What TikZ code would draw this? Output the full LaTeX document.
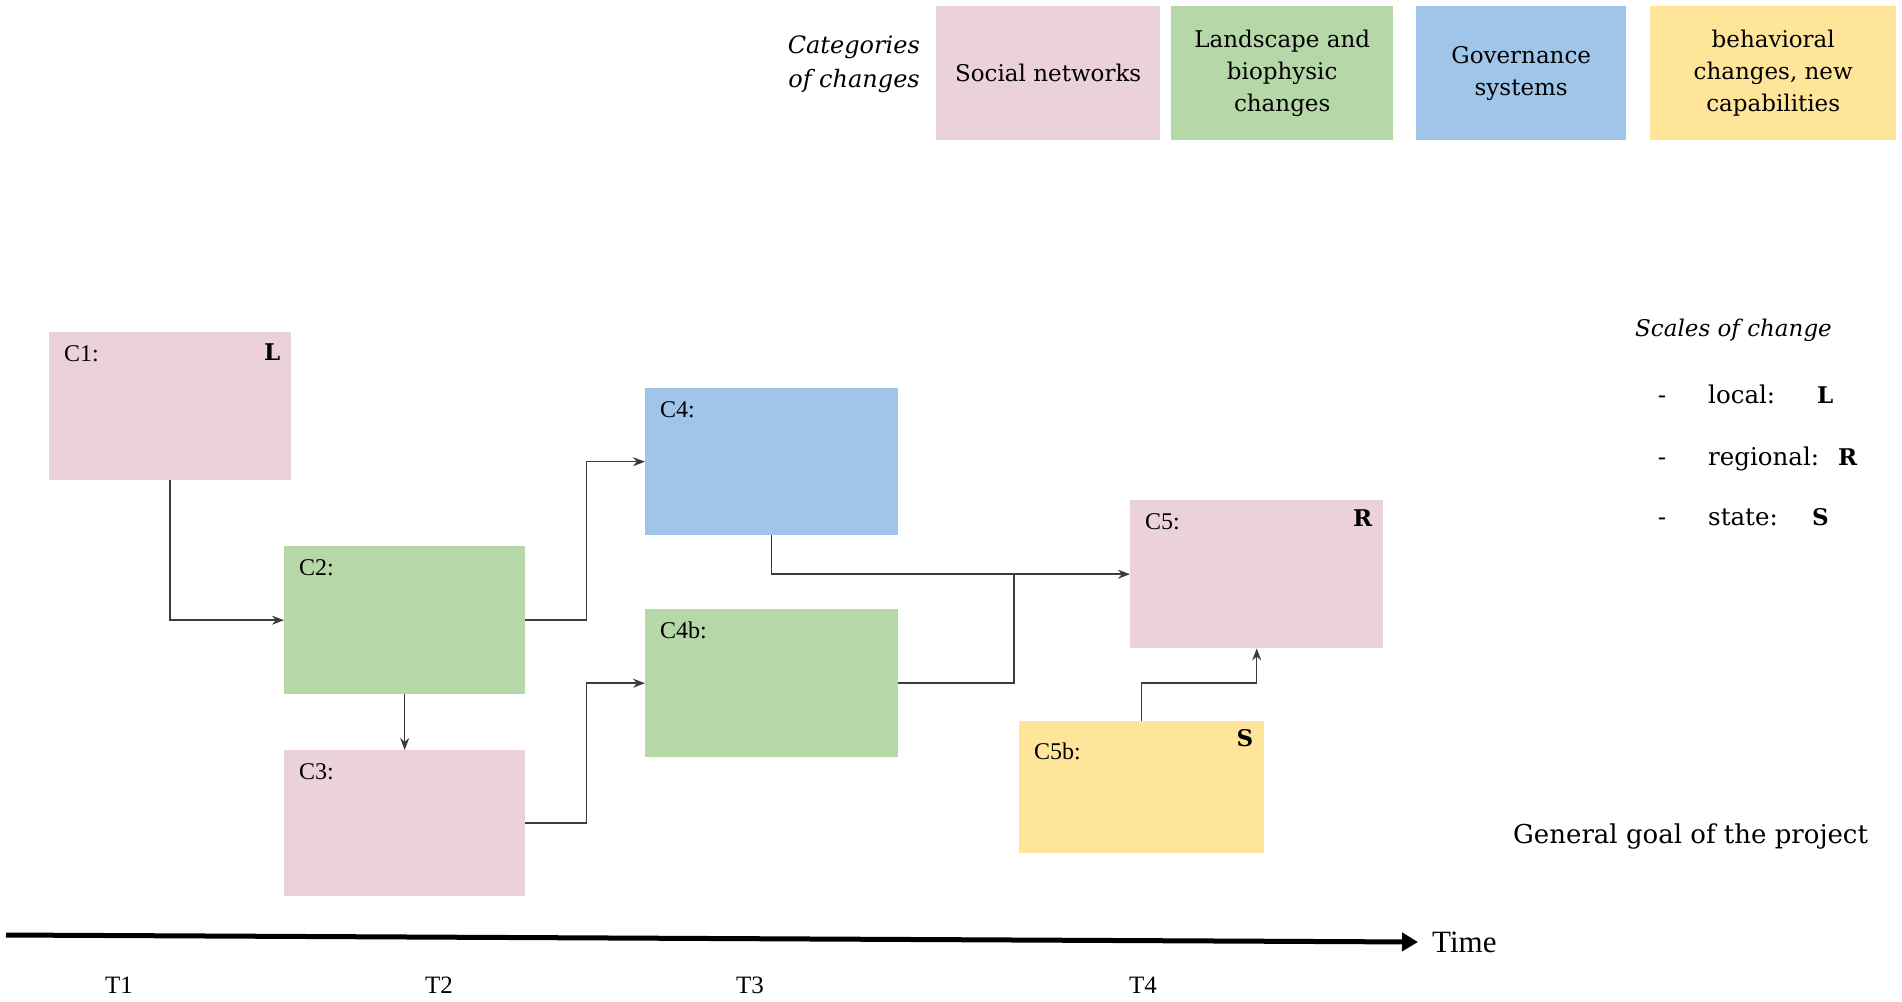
\documentclass[tikz,border=0pt]{standalone}
\usepackage{fontspec}
\setmainfont{DejaVu Serif}
\newfontfamily\tagfont{Liberation Serif}
\usetikzlibrary{arrows.meta}

\definecolor{socialpink}{HTML}{EAD1DC}
\definecolor{landgreen}{HTML}{B6D7A8}
\definecolor{govblue}{HTML}{9FC5E8}
\definecolor{behavyellow}{HTML}{FFE599}
\definecolor{linkgray}{HTML}{3C3C3C}

\tikzset{
  legbox/.style={fill=#1, anchor=north west, inner sep=0pt, minimum height=134pt,
    align=center, font=\fontsize{23}{32}\selectfont},
  chbox/.style={fill=#1, anchor=north west, inner sep=0pt,
    minimum width=242pt, minimum height=148pt},
  tag/.style={anchor=north west, inner sep=0pt, font=\tagfont\fontsize{24}{28}\selectfont},
  scalemark/.style={anchor=north east, inner sep=0pt, font=\bfseries\fontsize{23}{26}\selectfont},
  link/.style={draw=linkgray, line width=1.5pt},
  plain/.style={inner sep=0pt, font=\fontsize{24.5}{32}\selectfont},
  tlabel/.style={inner sep=0pt, font=\tagfont\fontsize{25}{30}\selectfont}
}

\begin{document}
\begin{tikzpicture}[x=1pt,y=-1pt,>={Stealth[length=12pt,width=9pt]}]

\useasboundingbox (0,0) rectangle (1902,1001);

% categories
\node[plain, align=right, anchor=east, font=\itshape\fontsize{24}{34}\selectfont] (cats) at (920,64) {Categories\\of changes};
\node[legbox=socialpink, minimum width=224pt] (social) at (936,6) {Social networks};
\node[legbox=landgreen, minimum width=222pt] (land) at (1171,6) {Landscape and\\biophysic\\changes};
\node[legbox=govblue, minimum width=210pt] (gov) at (1416,6) {Governance\\systems};
\node[legbox=behavyellow, minimum width=246pt] (behav) at (1650,6) {behavioral\\changes, new\\capabilities};

% changes
\node[chbox=socialpink] (C1) at (49,332) {};
\node[chbox=landgreen, minimum width=241pt] (C2) at (284,546) {};
\node[chbox=socialpink, minimum width=241pt, minimum height=146pt] (C3) at (284,750) {};
\node[chbox=govblue, minimum width=253pt, minimum height=147pt] (C4) at (645,388) {};
\node[chbox=landgreen, minimum width=253pt] (C4b) at (645,609) {};
\node[chbox=socialpink, minimum width=253pt] (C5) at (1130,500) {};
\node[chbox=behavyellow, minimum width=245pt, minimum height=132pt] (C5b) at (1019,721) {};

\node[tag] (c1tag) at ([shift={(15,13)}]C1.north west) {C1:};
\node[tag] (c2tag) at ([shift={(15,13)}]C2.north west) {C2:};
\node[tag] (c3tag) at ([shift={(15,13)}]C3.north west) {C3:};
\node[tag] (c4tag) at ([shift={(15,13)}]C4.north west) {C4:};
\node[tag] (c4btag) at ([shift={(15,13)}]C4b.north west) {C4b:};
\node[tag] (c5tag) at ([shift={(15,13)}]C5.north west) {C5:};
\node[tag] (c5btag) at ([shift={(15,22)}]C5b.north west) {C5b:};

\node[scalemark] (c1scale) at ([shift={(-11,12)}]C1.north east) {L};
\node[scalemark] (c5scale) at ([shift={(-11,10)}]C5.north east) {R};
\node[scalemark] (c5bscale) at ([shift={(-11,8)}]C5b.north east) {S};

\draw[link,->] (C1.south) |- (C2.west);
\draw[link,->] (C2.south) -- (C3.north);
\draw[link,->] (C2.east) -- ++(61,0) |- (C4.west);
\draw[link,->] (C3.east) -- ++(61,0) |- (C4b.west);
\draw[link,->] (C4.south) |- (C5.west);
\draw[link] (C4b.east) -| ([xshift=-116pt]C5.west);
\draw[link,->] (C5b.north) -- ++(0,-38) -| (C5.south);

% scales
\node[plain, anchor=base west, font=\itshape\fontsize{23}{32}\selectfont] (scales) at (1635,336) {Scales of change};
\node[plain, anchor=base] (dash1) at (1662,403) {-};
\node[plain, anchor=base] (dash2) at (1662,465) {-};
\node[plain, anchor=base] (dash3) at (1662,525) {-};
\node[plain, anchor=base west] (local) at (1708,403) {local:};
\node[plain, anchor=base west] (regional) at (1708,465) {regional:};
\node[plain, anchor=base west] (state) at (1708,525) {state:};
\node[plain, anchor=base west, font=\bfseries\fontsize{23}{26}\selectfont] (lmark) at (1817,403) {L};
\node[plain, anchor=base west, font=\bfseries\fontsize{23}{26}\selectfont] (rmark) at (1838,465) {R};
\node[plain, anchor=base west, font=\bfseries\fontsize{23}{26}\selectfont] (smark) at (1812,525) {S};

\node[plain, anchor=base west, font=\fontsize{26}{32}\selectfont] (goal) at (1513,843) {General goal of the project};

% time axis
\coordinate (t0) at (6,935);
\node[tlabel, anchor=west, font=\tagfont\fontsize{31}{34}\selectfont] (time) at (1432,942) {Time};
\draw[line width=5pt, -{Triangle[length=16pt,width=18pt]}] (t0) -- ([xshift=-14pt]time.west);
\node[tlabel] (T1) at (119,985) {T1};
\node[tlabel] (T2) at (439,985) {T2};
\node[tlabel] (T3) at (750,985) {T3};
\node[tlabel] (T4) at (1143,985) {T4};

\end{tikzpicture}
\end{document}
